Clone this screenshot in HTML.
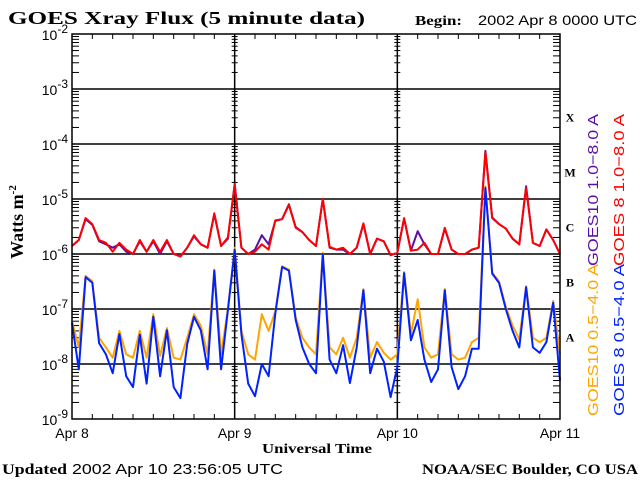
<!DOCTYPE html>
<html><head><meta charset="utf-8"><style>
html,body{margin:0;padding:0;background:#fff;}
svg{display:block;}
.sf{font-family:"Liberation Serif",serif;font-weight:bold;}
.ss{font-family:"Liberation Sans",sans-serif;}
</style></head><body>
<svg id="chart" width="640" height="480" viewBox="0 0 640 480" xmlns="http://www.w3.org/2000/svg">
<text class="sf" x="8" y="24" font-size="18" textLength="357" lengthAdjust="spacingAndGlyphs">GOES Xray Flux (5 minute data)</text>
<text class="sf" x="415" y="25" font-size="14" textLength="47" lengthAdjust="spacingAndGlyphs">Begin:</text>
<text class="ss" x="478" y="25" font-size="14" textLength="159" lengthAdjust="spacingAndGlyphs">2002 Apr 8 0000 UTC</text>
<text class="sf" font-size="18" transform="translate(23,222) rotate(-90)" text-anchor="middle">Watts m<tspan font-size="11" dy="-7">-2</tspan></text>
<text class="sf" x="262" y="453" font-size="14" textLength="110" lengthAdjust="spacingAndGlyphs">Universal Time</text>
<text x="2" y="474" font-size="15" textLength="281" lengthAdjust="spacingAndGlyphs"><tspan class="sf">Updated</tspan><tspan class="ss"> 2002 Apr 10 23:56:05 UTC</tspan></text>
<text class="sf" x="422" y="474" font-size="15" textLength="216" lengthAdjust="spacingAndGlyphs">NOAA/SEC Boulder, CO USA</text>
<g id="axes"></g>
<g id="series"></g>
<g id="frame"></g>
<text class="ss" font-size="15" fill="#5b0fa8" transform="translate(598,266) rotate(-90)" textLength="152" lengthAdjust="spacingAndGlyphs">GOES10 1.0−8.0 A</text>
<text class="ss" font-size="15" fill="#ff0000" transform="translate(624,266) rotate(-90)" textLength="152" lengthAdjust="spacingAndGlyphs">GOES 8 1.0−8.0 A</text>
<text class="ss" font-size="15" fill="#ffa500" transform="translate(598,416) rotate(-90)" textLength="152" lengthAdjust="spacingAndGlyphs">GOES10 0.5−4.0 A</text>
<text class="ss" font-size="15" fill="#0022ff" transform="translate(624,416) rotate(-90)" textLength="152" lengthAdjust="spacingAndGlyphs">GOES 8 0.5−4.0 A</text>
</svg>
<script>
const dayLabels = ["Apr 8","Apr 9","Apr 10","Apr 11"];
const decadeExps = [-2,-3,-4,-5,-6,-7,-8,-9];
const classLetters = ["X","M","C","B","A"];
const goes8Long = [1.4e-6,1.8e-6,4.5e-6,3.5e-6,1.8e-6,1.6e-6,1.1e-6,1.6e-6,1.2e-6,1.0e-6,1.8e-6,1.1e-6,1.8e-6,1.1e-6,1.8e-6,1.0e-6,0.9e-6,1.3e-6,2.2e-6,1.5e-6,1.3e-6,5.5e-6,1.4e-6,2.0e-6,
1.8e-5,1.3e-6,1.0e-6,1.1e-6,1.5e-6,1.2e-6,4.1e-6,4.3e-6,7.8e-6,3.0e-6,2.5e-6,1.8e-6,1.4e-6,1.0e-5,1.35e-6,1.2e-6,1.3e-6,1.0e-6,1.3e-6,3.6e-6,1.0e-6,1.9e-6,1.7e-6,0.95e-6,
1.05e-6,4.5e-6,1.15e-6,1.2e-6,1.6e-6,1.0e-6,1.0e-6,3.0e-6,1.2e-6,1.0e-6,1.0e-6,1.2e-6,1.3e-6,7.0e-5,4.5e-6,3.5e-6,2.9e-6,1.9e-6,1.5e-6,1.6e-5,1.6e-6,1.4e-6,2.8e-6,1.8e-6,1.0e-6];
const goes10Long = [1.4e-6,1.8e-6,4.3e-6,3.4e-6,1.7e-6,1.5e-6,1.3e-6,1.5e-6,1.1e-6,1.0e-6,1.7e-6,1.1e-6,1.7e-6,1.0e-6,1.7e-6,1.0e-6,0.9e-6,1.3e-6,2.1e-6,1.5e-6,1.3e-6,5.3e-6,1.4e-6,1.9e-6,
1.9e-5,1.3e-6,1.0e-6,1.2e-6,2.2e-6,1.5e-6,4.0e-6,4.3e-6,8.0e-6,3.1e-6,2.5e-6,1.8e-6,1.4e-6,1.0e-5,1.3e-6,1.2e-6,1.2e-6,1.0e-6,1.3e-6,3.5e-6,1.0e-6,1.9e-6,1.7e-6,0.95e-6,
1.05e-6,4.4e-6,1.15e-6,2.6e-6,1.5e-6,1.0e-6,1.0e-6,2.9e-6,1.2e-6,1.0e-6,1.0e-6,1.2e-6,1.3e-6,7.5e-5,4.6e-6,3.5e-6,2.9e-6,1.9e-6,1.5e-6,1.7e-5,1.6e-6,1.4e-6,2.8e-6,1.8e-6,1.0e-6];
const goes8Short = [5.6e-8,8e-9,3.8e-7,3e-7,2.4e-8,1.5e-8,6.8e-9,3.5e-8,6e-9,3.8e-9,3.4e-8,4.4e-9,7.2e-8,6e-9,4.1e-8,3.8e-9,2.4e-9,2.3e-8,7.2e-8,4.1e-8,8e-9,5e-7,8e-9,9.6e-8,
1.2e-6,3.5e-8,4.4e-9,2.6e-9,1.0e-8,6e-9,8.3e-8,5.8e-7,5e-7,6.3e-8,2e-8,1e-8,6.8e-9,1e-6,1.2e-8,6.8e-9,2.2e-8,4.5e-9,2e-8,2.2e-7,6.8e-9,1.9e-8,1.1e-8,2.5e-9,
8.8e-9,4.5e-7,2.7e-8,6.3e-8,1.2e-8,4.7e-9,8e-9,2.2e-7,8.8e-9,3.5e-9,6e-9,1.9e-8,1.9e-8,1.6e-5,4.4e-7,3e-7,1e-7,4e-8,2e-8,2.5e-7,2e-8,1.6e-8,2.5e-8,1.3e-7,5e-9];
const goes10Short = [6e-8,2e-8,4e-7,3.2e-7,3e-8,2e-8,1.3e-8,4e-8,1.5e-8,1.3e-8,4e-8,1.3e-8,8e-8,1.4e-8,4.5e-8,1.3e-8,1.2e-8,3e-8,8e-8,5e-8,1.5e-8,5.2e-7,1.5e-8,1e-7,
1.3e-6,4e-8,1.5e-8,1.2e-8,8e-8,4e-8,9e-8,6e-7,5.2e-7,7e-8,3e-8,2e-8,1.5e-8,1.05e-6,2e-8,1.5e-8,3e-8,1.3e-8,3e-8,2.3e-7,1.3e-8,2.5e-8,1.6e-8,1.2e-8,
1.5e-8,4.7e-7,3.5e-8,1.5e-7,2e-8,1.3e-8,1.5e-8,2.3e-7,1.5e-8,1.2e-8,1.3e-8,2.5e-8,3e-8,1.7e-5,4.6e-7,3.2e-7,1.1e-7,5e-8,2.8e-8,2.6e-7,3e-8,2.5e-8,3e-8,1.4e-7,1.5e-8];

const X0=72, X1=560, Y2=34, PXD=55, HOURS=72;
function xs(h){return X0+(X1-X0)*h/HOURS;}
function ys(v){return Y2+(-2-Math.log10(v))*PXD;}
const NS="http://www.w3.org/2000/svg";
function mk(tag,parent){const e=document.createElementNS(NS,tag);parent.appendChild(e);return e;}
const axes=document.getElementById('axes'), series=document.getElementById('series'), frame=document.getElementById('frame');
const YB=ys(1e-9);

decadeExps.forEach(function(ex){
  const y=ys(Math.pow(10,ex));
  if(ex>-9 && ex<-2){
    const l=mk('line',axes);
    
    
    l.setAttribute('x1',X0);l.setAttribute('x2',X1);l.setAttribute('y1',y);l.setAttribute('y2',y);
    l.setAttribute('stroke','#000');l.setAttribute('stroke-width','1.5');
  }
  const t=mk('text',axes);
  
  
  t.setAttribute('x',68);t.setAttribute('y',y+6);t.setAttribute('text-anchor','end');
  t.setAttribute('class','ss');t.setAttribute('font-size','14');
  t.innerHTML='10<tspan dy="-7" font-size="12">'+ex+'</tspan>';
});
const tickXs=[X0,xs(24),xs(48),X1];
for(let ex=-9;ex<-2;ex++){
  for(let m=2;m<=9;m++){
    const y=ys(m*Math.pow(10,ex));
    tickXs.forEach(function(tx,i){
      const l=mk('line',axes);
      
      
      let a=tx,b=tx;
      if(i===0)b=tx+7; else if(i===3)a=tx-7; else {a=tx-3;b=tx+3;}
      l.setAttribute('x1',a);l.setAttribute('x2',b);l.setAttribute('y1',y);l.setAttribute('y2',y);
      l.setAttribute('stroke','#000');l.setAttribute('stroke-width','1');
    });
  }
}
for(let h=3;h<HOURS;h+=3){
  if(h%24===0)continue;
  [[Y2,Y2+5],[YB-5,YB]].forEach(function(p){
    const l=mk('line',axes);
    
    
    l.setAttribute('x1',xs(h));l.setAttribute('x2',xs(h));l.setAttribute('y1',p[0]);l.setAttribute('y2',p[1]);
    l.setAttribute('stroke','#000');
  });
}
dayLabels.forEach(function(d,i){
  const x=xs(i*24);
  if(i>0&&i<3){
    const l=mk('line',axes);
    
    
    l.setAttribute('x1',x);l.setAttribute('x2',x);l.setAttribute('y1',Y2);l.setAttribute('y2',YB);
    l.setAttribute('stroke','#000');l.setAttribute('stroke-width','1.5');
  }
  const t=mk('text',axes);
  
  
  t.setAttribute('x',x);t.setAttribute('y',438);t.setAttribute('text-anchor','middle');
  t.setAttribute('class','ss');t.setAttribute('font-size','14');
  t.textContent=d;
});
classLetters.forEach(function(c,i){
  const t=mk('text',axes);
  
  
  t.setAttribute('x',570);t.setAttribute('y',ys(Math.pow(10,-3.5-i))+5);t.setAttribute('text-anchor','middle');
  t.setAttribute('class','sf');t.setAttribute('font-size','12');
  t.textContent=c;
});
function drawSeries(arr,color,name){
  const p=mk('polyline',series);
  
  
  p.setAttribute('points',arr.map(function(v,i){return xs(i).toFixed(1)+','+ys(v).toFixed(1);}).join(' '));
  p.setAttribute('fill','none');p.setAttribute('stroke',color);p.setAttribute('stroke-width','2');
  p.setAttribute('stroke-linejoin','round');
}
drawSeries(goes10Short,'#ffa500','goes10-short-line');
drawSeries(goes8Short,'#0022ff','goes8-short-line');
drawSeries(goes10Long,'#5b0fa8','goes10-long-line');
drawSeries(goes8Long,'#ff0000','goes8-long-line');
const r=mk('rect',frame);


r.setAttribute('x',X0);r.setAttribute('y',Y2);r.setAttribute('width',X1-X0);r.setAttribute('height',YB-Y2);
r.setAttribute('fill','none');r.setAttribute('stroke','#000');r.setAttribute('stroke-width','1.5');
</script>
</body></html>
